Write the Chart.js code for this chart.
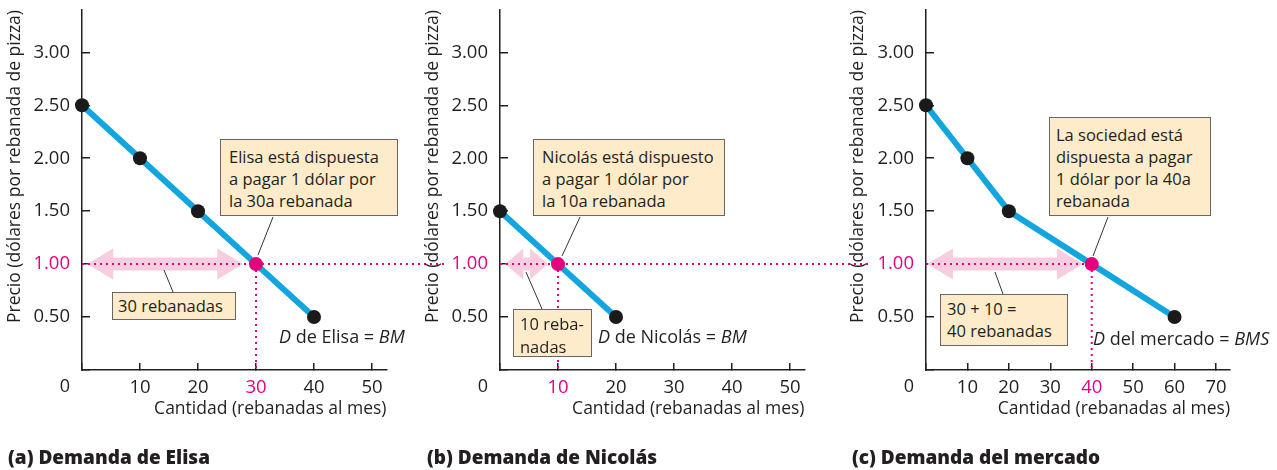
<!DOCTYPE html>
<html>
<head>
<meta charset="utf-8">
<script src="https://cdn.jsdelivr.net/npm/chart.js@4.4.0/dist/chart.umd.min.js"></script>
<style>
body { margin: 0; background: #fff; font-family: "Open Sans", sans-serif; color: #231f20; }
#wrap { position: relative; width: 1277px; height: 470px; overflow: hidden; }
canvas { position: absolute; top: 0; }
.box { position: absolute; box-sizing: border-box; background: #fdebc9; border: 1px solid #666;
       font-size: 16.5px; line-height: 22px; white-space: nowrap; }
.lbl { position: absolute; font-size: 18px; line-height: 22px; white-space: nowrap; }
.cap { position: absolute; top: 446px; font-size: 19px; line-height: 22px; font-weight: 800; white-space: nowrap; }
</style>
</head>
<body>
<div id="wrap">
  <canvas id="chartA" width="460" height="470" style="left:0px"></canvas>
  <canvas id="chartB" width="460" height="470" style="left:420px"></canvas>
  <canvas id="chartC" width="437" height="470" style="left:840px"></canvas>

  <div class="box" style="left:220px;top:139px;width:178px;height:77px;padding:6px 0 0 8px">Elisa está dispuesta<br>a pagar 1 dólar por<br>la 30a rebanada</div>
  <div class="box" style="left:112px;top:292px;width:124px;height:28px;padding:1px 0 0 5px;line-height:24px">30 rebanadas</div>
  <div class="lbl" style="left:279px;top:325px"><i>D</i> de Elisa = <i>BM</i></div>

  <div class="box" style="left:533px;top:139px;width:192px;height:77px;padding:6px 0 0 8px">Nicolás está dispuesto<br>a pagar 1 dólar por<br>la 10a rebanada</div>
  <div class="box" style="left:513px;top:309px;width:79px;height:48px;padding:2px 0 0 6px;line-height:23px">10 reba-<br>nadas</div>
  <div class="lbl" style="left:598px;top:325px"><i>D</i> de Nicolás = <i>BM</i></div>

  <div class="box" style="left:1049px;top:117px;width:162px;height:99px;padding:6px 0 0 6px">La sociedad está<br>dispuesta a pagar<br>1 dólar por la 40a<br>rebanada</div>
  <div class="box" style="left:940px;top:294px;width:128px;height:52px;padding:3px 0 0 6px">30 + 10 =<br>40 rebanadas</div>
  <div class="lbl" style="left:1093px;top:327px"><i>D</i> del mercado = <i>BMS</i></div>

  <div class="cap" style="left:8px">(a) Demanda de Elisa</div>
  <div class="cap" style="left:427px">(b) Demanda de Nicolás</div>
  <div class="cap" style="left:852px">(c) Demanda del mercado</div>
</div>
<script>
// Demand schedules (quantity in slices per month, price in dollars per slice)
const qElisa = [0, 10, 20, 30, 40];
const pElisa = [2.5, 2.0, 1.5, 1.0, 0.5];
const qNicolas = [0, 10, 20];
const pNicolas = [1.5, 1.0, 0.5];
const qMercado = [0, 10, 20, 40, 60];
const pMercado = [2.5, 2.0, 1.5, 1.0, 0.5];

const precio = 1.0;
const cantElisa = 30;
const cantNicolas = 10;
const cantMercado = 40;

const INK = '#231f20';
const PINK = '#e5007d';
const BLUE = '#12a5de';
const ARROW = '#f8cde0';

Chart.defaults.font.family = '"Open Sans", sans-serif';
Chart.defaults.font.size = 17.5;
Chart.defaults.color = INK;

// double arrow, leader lines and the shared "0" origin label
const extras = {
    id: 'extras',
    beforeDatasetsDraw(chart, args, o) {
        const { ctx, scales: { x, y } } = chart;
        const x0 = x.getPixelForValue(o.arrow[0]);
        const x1 = x.getPixelForValue(o.arrow[1]);
        const yc = y.getPixelForValue(precio);
        const head = Math.min(26, (x1 - x0) * 0.42);
        const sh = 6.5, hh = 15.5;
        ctx.save();
        ctx.fillStyle = ARROW;
        ctx.beginPath();
        ctx.moveTo(x0, yc);
        ctx.lineTo(x0 + head, yc - hh);
        ctx.lineTo(x0 + head, yc - sh);
        ctx.lineTo(x1 - head, yc - sh);
        ctx.lineTo(x1 - head, yc - hh);
        ctx.lineTo(x1, yc);
        ctx.lineTo(x1 - head, yc + hh);
        ctx.lineTo(x1 - head, yc + sh);
        ctx.lineTo(x0 + head, yc + sh);
        ctx.lineTo(x0 + head, yc + hh);
        ctx.closePath();
        ctx.fill();
        ctx.restore();
    },
    afterDraw(chart, args, o) {
        const { ctx, scales: { x } } = chart;
        ctx.save();
        ctx.strokeStyle = '#333';
        ctx.lineWidth = 1;
        o.leaders.forEach(l => {
            ctx.beginPath();
            ctx.moveTo(l[0] - o.left, l[1]);
            ctx.lineTo(l[2] - o.left, l[3]);
            ctx.stroke();
        });
        ctx.fillStyle = INK;
        ctx.font = '18px "Open Sans", sans-serif';
        ctx.textAlign = 'center';
        ctx.textBaseline = 'middle';
        ctx.fillText('0', x.getPixelForValue(0) - 17, 387);
        ctx.restore();
    }
};

function makePanel(id, q, p, qSel, cfg) {
    const pts = q.map((v, i) => ({ x: v, y: p[i] }));
    const dotColors = q.map(v => v === qSel ? PINK : '#1a1a1a');
    return new Chart(document.getElementById(id).getContext('2d'), {
        type: 'scatter',
        data: {
            datasets: [
                {
                    data: pts,
                    showLine: true,
                    borderColor: BLUE,
                    borderWidth: 6,
                    pointRadius: 7,
                    pointBorderWidth: 0,
                    pointBackgroundColor: dotColors,
                    clip: false,
                    order: 0
                },
                {
                    data: [{ x: 0, y: precio }, { x: cfg.hEnd, y: precio }],
                    showLine: true,
                    borderColor: PINK,
                    borderWidth: 2,
                    borderDash: [2, 4],
                    pointRadius: 0,
                    clip: false,
                    order: 1
                },
                {
                    data: [{ x: qSel, y: precio }, { x: qSel, y: 0 }],
                    showLine: true,
                    borderColor: PINK,
                    borderWidth: 2,
                    borderDash: [2, 4],
                    pointRadius: 0,
                    clip: false,
                    order: 1
                }
            ]
        },
        options: {
            responsive: false,
            animation: false,
            events: [],
            layout: { padding: { left: 0, top: 10, right: cfg.padRight, bottom: 40 } },
            scales: {
                x: {
                    type: 'linear',
                    min: 0,
                    max: cfg.xMax,
                    afterFit(s) { s.height = 60; s.paddingLeft = 0; s.paddingRight = 0; },
                    border: { display: true, color: INK, width: 1.5 },
                    grid: { drawOnChartArea: false, tickLength: -7, color: INK, lineWidth: 1.5 },
                    ticks: {
                        stepSize: 10,
                        includeBounds: false,
                        padding: 14,
                        maxRotation: 0,
                        autoSkip: false,
                        font: { size: 18.5 },
                        callback: v => v === 0 ? '' : String(v),
                        color: c => c.tick && c.tick.value === qSel ? PINK : INK
                    },
                    title: {
                        display: true,
                        text: 'Cantidad (rebanadas al mes)',
                        align: 'end',
                        padding: { top: 0, bottom: 10 }
                    }
                },
                y: {
                    type: 'linear',
                    min: 0,
                    max: 3.4,
                    afterFit(s) { s.width = cfg.axisX; s.paddingTop = 0; s.paddingBottom = 0; },
                    border: { display: true, color: INK, width: 1.5 },
                    grid: { drawOnChartArea: false, tickLength: -8, color: INK, lineWidth: 1.5 },
                    ticks: {
                        stepSize: 0.5,
                        includeBounds: false,
                        padding: 20,
                        font: { size: 18.5 },
                        callback: v => v === 0 ? '' : v.toFixed(2),
                        color: c => c.tick && c.tick.value === precio ? PINK : INK
                    },
                    title: {
                        display: true,
                        text: 'Precio (dólares por rebanada de pizza)',
                        align: 'end',
                        padding: { top: cfg.titlePad, bottom: 0 }
                    }
                }
            },
            plugins: {
                legend: { display: false },
                tooltip: { enabled: false },
                extras: { arrow: cfg.arrow, leaders: cfg.leaders, left: cfg.left }
            }
        },
        plugins: [extras]
    });
}

// (a) Elisa
makePanel('chartA', qElisa, pElisa, cantElisa, {
    left: 0, axisX: 82, xMax: 52.5, padRight: 73.5, titlePad: 5, hEnd: 63,
    arrow: [0.9, 27.8],
    leaders: [[273, 217, 258, 255], [164, 270, 173, 292]]
});

// (b) Nicolás
makePanel('chartB', qNicolas, pNicolas, cantNicolas, {
    left: 420, axisX: 80, xMax: 52.5, padRight: 75.5, titlePad: 3, hEnd: 64,
    arrow: [0.9, 8.3],
    leaders: [[580, 217, 562, 256], [526, 272, 542, 309]]
});

// (c) Mercado
makePanel('chartC', qMercado, pMercado, cantMercado, {
    left: 840, axisX: 86, xMax: 73.4, padRight: 46.9, titlePad: 8, hEnd: 40,
    arrow: [0.25, 37.9],
    leaders: [[1108, 217, 1093, 256], [995, 272, 1003, 294]]
});
</script>
</body>
</html>
